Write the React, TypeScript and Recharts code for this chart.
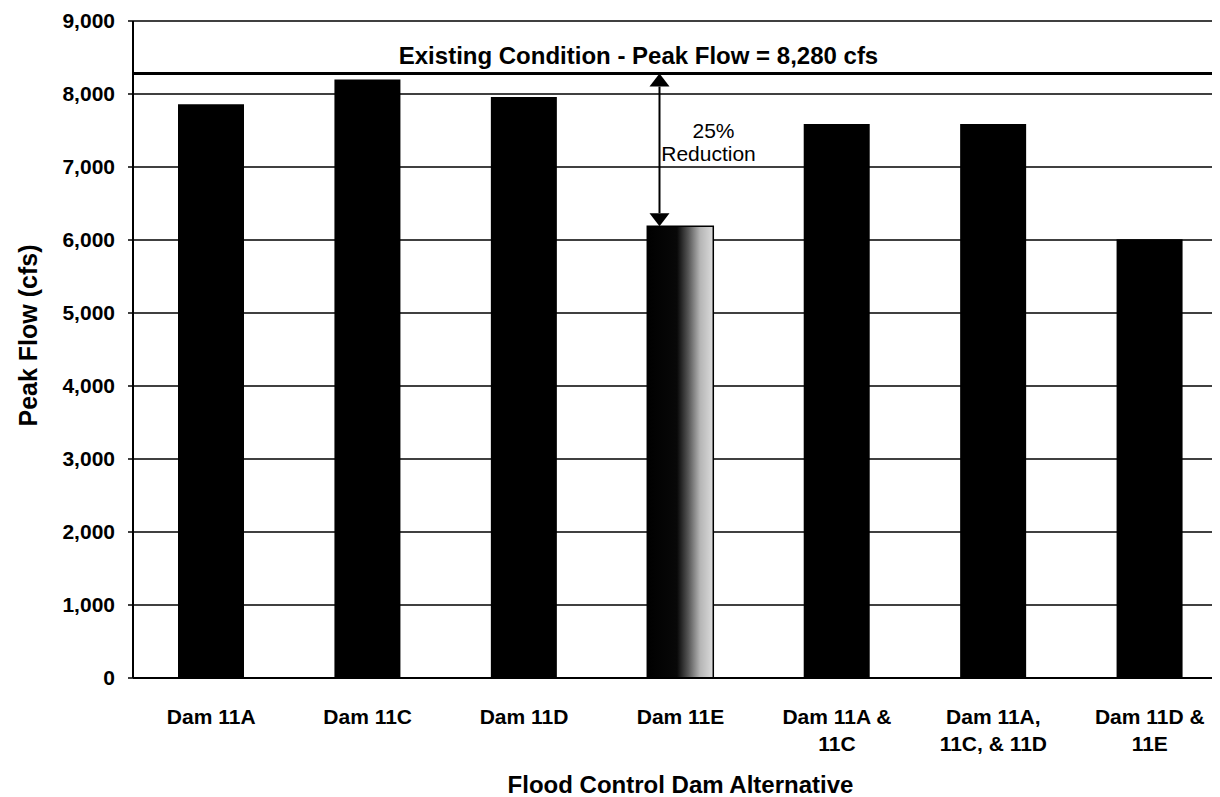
import React from 'react';
import { BarChart, Bar, XAxis, YAxis, CartesianGrid, ReferenceLine, Cell } from 'recharts';

const FONT = '"Liberation Sans", Arial, Helvetica, sans-serif';

const categories = [
  'Dam 11A',
  'Dam 11C',
  'Dam 11D',
  'Dam 11E',
  'Dam 11A & 11C',
  'Dam 11A, 11C, & 11D',
  'Dam 11D & 11E',
];
const tickLines = [
  ['Dam 11A'],
  ['Dam 11C'],
  ['Dam 11D'],
  ['Dam 11E'],
  ['Dam 11A &', '11C'],
  ['Dam 11A,', '11C, & 11D'],
  ['Dam 11D &', '11E'],
];
const peakFlow = [7860, 8200, 7960, 6190, 7590, 7590, 6010];
const barFills = ['#000', '#000', '#000', 'url(#grad11E)', '#000', '#000', '#000'];
const existingPeak = 8280;
const reducedCategory = 'Dam 11E';
const reducedPeak = 6190;
const yTicks = [0, 1000, 2000, 3000, 4000, 5000, 6000, 7000, 8000, 9000];
const existingLabel = 'Existing Condition - Peak Flow = 8,280 cfs';
const reductionLabel = ['25%', 'Reduction'];
const xTitle = 'Flood Control Dam Alternative';
const yTitle = 'Peak Flow (cfs)';

const data = categories.map((c, i) => ({ category: c, peak: peakFlow[i] }));

const XTick = (props: any) => {
  const { x, y, payload } = props;
  const idx = categories.indexOf(payload.value);
  const lines = idx >= 0 ? tickLines[idx] : [String(payload.value)];
  return (
    <text x={x} y={y} textAnchor="middle" fontFamily={FONT} fontSize={21} fontWeight="bold" fill="#000">
      {lines.map((l, i) => (
        <tspan key={i} x={x} dy={i === 0 ? 46 : 27}>
          {l}
        </tspan>
      ))}
    </text>
  );
};

const ArrowShape = (p: any) => {
  const x = p.x1 - 21;
  const yTop = Math.min(p.y1, p.y2);
  const yBot = Math.max(p.y1, p.y2);
  const hw = 10;
  const hh = 13;
  return (
    <g>
      <line x1={x} y1={yTop + hh} x2={x} y2={yBot - hh} stroke="#000" strokeWidth={2} />
      <polygon points={`${x},${yTop} ${x - hw},${yTop + hh} ${x + hw},${yTop + hh}`} fill="#000" />
      <polygon points={`${x},${yBot} ${x - hw},${yBot - hh} ${x + hw},${yBot - hh}`} fill="#000" />
      <text x={x + 54} y={yTop + 64} textAnchor="middle" fontFamily={FONT} fontSize={21} fill="#000">
        {reductionLabel[0]}
      </text>
      <text x={x + 49} y={yTop + 87} textAnchor="middle" fontFamily={FONT} fontSize={21} fill="#000">
        {reductionLabel[1]}
      </text>
    </g>
  );
};

const ExistingLabel = (p: any) => {
  const vb = p.viewBox || {};
  return (
    <text
      x={vb.x + vb.width / 2 - 42}
      y={vb.y - 10}
      textAnchor="middle"
      fontFamily={FONT}
      fontSize={24}
      fontWeight="bold"
      fill="#000"
    >
      {existingLabel}
    </text>
  );
};

const XTitle = (p: any) => {
  const vb = p.viewBox || {};
  return (
    <text x={vb.x + vb.width / 2} y={vb.y + 115} textAnchor="middle" fontFamily={FONT} fontSize={24} fontWeight="bold" fill="#000">
      {xTitle}
    </text>
  );
};

const YTitle = (p: any) => {
  const vb = p.viewBox || {};
  const cx = 19.5;
  const cy = vb.y + vb.height / 2 - 14;
  return (
    <text
      x={cx}
      y={cy}
      transform={`rotate(-90, ${cx}, ${cy})`}
      textAnchor="middle"
      dominantBaseline="central"
      fontFamily={FONT}
      fontSize={25}
      fontWeight="bold"
      fill="#000"
    >
      {yTitle}
    </text>
  );
};

export default function App() {
  return (
    <div style={{ width: 1212, height: 789, overflow: 'hidden', background: '#fff' }}>
      <BarChart width={1230} height={800} data={data} margin={{ top: 13, right: 10, left: 0, bottom: 0 }}>
        <defs>
          <linearGradient id="grad11E" x1="0" y1="0" x2="1" y2="0">
            <stop offset="0" stopColor="#000" />
            <stop offset="0.45" stopColor="#080808" />
            <stop offset="0.62" stopColor="#555" />
            <stop offset="0.8" stopColor="#b5b5b5" />
            <stop offset="1" stopColor="#dcdcdc" />
          </linearGradient>
        </defs>
        <CartesianGrid vertical={false} stroke="#000" strokeWidth={1.6} />
        <XAxis
          dataKey="category"
          height={130}
          interval={0}
          tickLine={false}
          tickSize={0}
          tickMargin={0}
          axisLine={{ stroke: '#000', strokeWidth: 2 }}
          tick={<XTick />}
          label={XTitle}
        />
        <YAxis
          domain={[0, 9000]}
          ticks={yTicks}
          interval={0}
          width={125}
          tickSize={5}
          tickMargin={13}
          tick={{ fill: '#000', fontSize: 21, fontWeight: 'bold', fontFamily: FONT }}
          tickFormatter={(v: number) => v.toLocaleString('en-US')}
          axisLine={{ stroke: '#000', strokeWidth: 2 }}
          tickLine={{ stroke: '#000', strokeWidth: 1.5 }}
          label={YTitle}
        />
        <Bar dataKey="peak" barSize={66} isAnimationActive={false}>
          {data.map((d, i) => (
            <Cell key={d.category} fill={barFills[i]} stroke="#000" strokeWidth={i === 3 ? 1.5 : 0} />
          ))}
        </Bar>
        <ReferenceLine y={existingPeak} stroke="#000" strokeWidth={3} label={ExistingLabel} />
        <ReferenceLine
          segment={[
            { x: reducedCategory, y: existingPeak },
            { x: reducedCategory, y: reducedPeak },
          ]}
          shape={ArrowShape}
        />
      </BarChart>
    </div>
  );
}
